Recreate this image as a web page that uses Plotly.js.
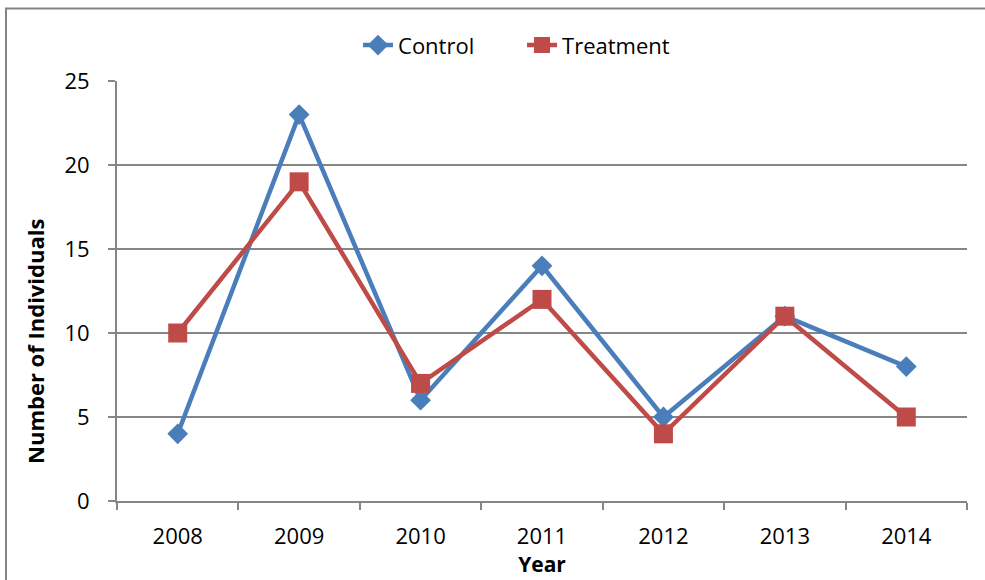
<!DOCTYPE html>
<html>
<head>
<meta charset="utf-8">
<script src="https://cdn.plot.ly/plotly-3.0.1.min.js"></script>
<style>
html,body{margin:0;padding:0;background:#fff;}
#chart{width:985px;height:580px;}
</style>
</head>
<body>
<div id="chart"></div>
<script>
const years = ["2008","2009","2010","2011","2012","2013","2014"];
const control = [4, 23, 6, 14, 5, 11, 8];
const treatment = [10, 19, 7, 12, 4, 11, 5];
const yTicks = [0, 5, 10, 15, 20, 25];

const FONT = "'Open Sans', 'Liberation Sans', sans-serif";
const traces = [
  {
    x: years, y: control, name: "Control", type: "scatter", mode: "lines+markers",
    line: {color: "#4A7EBB", width: 4.5},
    marker: {symbol: "diamond", size: 16, color: "#4A7EBB"}
  },
  {
    x: years, y: treatment, name: "Treatment", type: "scatter", mode: "lines+markers",
    line: {color: "#BE4B48", width: 4.5},
    marker: {symbol: "square", size: 19, color: "#BE4B48"}
  }
];

const layout = {
  width: 985, height: 580,
  margin: {l: 117, r: 18, t: 81, b: 79},
  paper_bgcolor: "#fff", plot_bgcolor: "#fff",
  font: {family: FONT, size: 22, color: "#000"},
  showlegend: true,
  legend: {
    orientation: "h", x: 0.4765, xanchor: "center", y: 1.085, yanchor: "middle",
    font: {family: FONT, size: 22, color: "#000"},
    entrywidth: 119, entrywidthmode: "pixels",
    tracegroupgap: 0
  },
  xaxis: {
    type: "category",
    range: [-0.5, 6.5],
    tickson: "boundaries",
    ticks: "outside", ticklen: 7, tickcolor: "#868686", tickwidth: 2,
    ticklabelstandoff: 15,
    showline: true, linecolor: "#868686", linewidth: 2,
    showgrid: false, zeroline: false,
    tickfont: {family: FONT, size: 22, color: "#000"},
    title: {text: "<b>Year</b>", font: {family: FONT, size: 21, color: "#000"}, standoff: 7}
  },
  yaxis: {
    range: [0, 25], tickvals: yTicks, ticktext: yTicks.map(String),
    ticks: "outside", ticklen: 7, tickcolor: "#868686", tickwidth: 2,
    ticklabelstandoff: 14,
    showline: true, linecolor: "#868686", linewidth: 2,
    showgrid: true, gridcolor: "#868686", gridwidth: 2,
    zeroline: false,
    tickfont: {family: FONT, size: 22, color: "#000"}
  },
  annotations: [{
    text: "<b>Number of Individuals</b>", textangle: -90,
    xref: "paper", yref: "paper", x: -0.0965, y: 0.381,
    xanchor: "center", yanchor: "middle", showarrow: false,
    font: {family: FONT, size: 22, color: "#000"}
  }],
  shapes: [{
    type: "rect", xref: "paper", yref: "paper",
    x0: -0.1306, x1: 1.2, y0: -0.3, y1: 1.1725,
    line: {color: "#868686", width: 2}, fillcolor: "rgba(0,0,0,0)", layer: "below"
  }]
};

Plotly.newPlot("chart", traces, layout, {displayModeBar: false, staticPlot: true});
</script>
</body>
</html>
